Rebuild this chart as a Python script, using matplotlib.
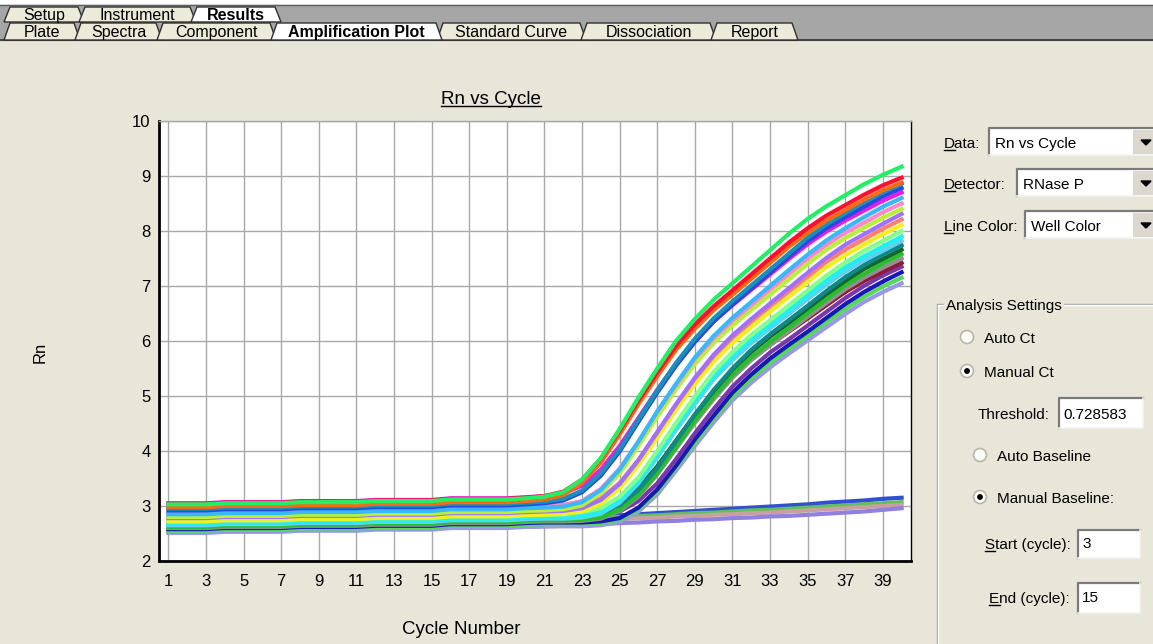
"""
Rn vs Cycle amplification plot, redrawn as a screenshot of the analysis window.
Saves out.png (1153x644).
"""

import numpy as np
import matplotlib
matplotlib.use("Agg")
import matplotlib.pyplot as plt
from matplotlib.patches import Polygon, Rectangle, Circle

plt.rcParams['font.family'] = ['Liberation Sans', 'DejaVu Sans']

# ---- data (Rn per cycle, cycles 1..40) ----
cycles = np.arange(1, 41)

# earliest wells (highest plateau)
rn_early = [
    [3.03, 3.03, 3.03, 3.05, 3.05, 3.05, 3.05, 3.07, 3.07, 3.07, 3.07, 3.09, 3.09, 3.09, 3.09, 3.12, 3.12, 3.12, 3.12, 3.14,
     3.17, 3.25, 3.48, 3.87, 4.40, 4.97, 5.50, 6.00, 6.40, 6.75, 7.05, 7.35, 7.65, 7.95, 8.22, 8.45, 8.65, 8.85, 9.02, 9.17],
    [3.04, 3.04, 3.04, 3.06, 3.06, 3.06, 3.06, 3.08, 3.08, 3.08, 3.08, 3.10, 3.10, 3.10, 3.10, 3.13, 3.13, 3.13, 3.13, 3.15,
     3.18, 3.26, 3.48, 3.86, 4.37, 4.92, 5.43, 5.91, 6.30, 6.63, 6.92, 7.21, 7.50, 7.79, 8.05, 8.28, 8.47, 8.66, 8.83, 8.97],
    [2.98, 2.98, 2.98, 3.00, 3.00, 3.00, 3.00, 3.02, 3.02, 3.02, 3.02, 3.04, 3.04, 3.04, 3.04, 3.07, 3.07, 3.07, 3.07, 3.09,
     3.12, 3.20, 3.42, 3.79, 4.30, 4.85, 5.36, 5.84, 6.22, 6.56, 6.84, 7.13, 7.42, 7.71, 7.97, 8.19, 8.38, 8.57, 8.74, 8.88],
    [2.95, 2.95, 2.95, 2.97, 2.97, 2.97, 2.97, 2.99, 2.99, 2.99, 2.99, 3.01, 3.01, 3.01, 3.01, 3.04, 3.04, 3.04, 3.04, 3.06,
     3.08, 3.13, 3.28, 3.59, 4.03, 4.57, 5.10, 5.60, 6.04, 6.41, 6.72, 7.01, 7.30, 7.59, 7.88, 8.12, 8.32, 8.52, 8.70, 8.86],
    [2.92, 2.92, 2.92, 2.94, 2.94, 2.94, 2.94, 2.96, 2.96, 2.96, 2.96, 2.98, 2.98, 2.98, 2.98, 3.01, 3.01, 3.01, 3.01, 3.03,
     3.05, 3.10, 3.25, 3.55, 3.99, 4.53, 5.06, 5.55, 5.98, 6.35, 6.66, 6.95, 7.24, 7.53, 7.81, 8.05, 8.25, 8.44, 8.63, 8.78],
    [3.05, 3.05, 3.05, 3.07, 3.07, 3.07, 3.07, 3.09, 3.09, 3.09, 3.09, 3.11, 3.11, 3.11, 3.11, 3.14, 3.14, 3.14, 3.14, 3.16,
     3.18, 3.23, 3.37, 3.66, 4.09, 4.60, 5.11, 5.59, 6.00, 6.36, 6.65, 6.93, 7.21, 7.49, 7.76, 7.99, 8.19, 8.37, 8.55, 8.70],
]
colors_early = ['#22ee66', '#ff1030', '#ff6a10', '#1890b8', '#2848e0', '#e81ce8']

rn_mid = [
    [2.85, 2.85, 2.85, 2.87, 2.87, 2.87, 2.87, 2.89, 2.89, 2.89, 2.89, 2.91, 2.91, 2.91, 2.91, 2.94, 2.94, 2.94, 2.94, 2.96,
     2.97, 2.99, 3.07, 3.29, 3.66, 4.17, 4.72, 5.22, 5.70, 6.09, 6.42, 6.71, 7.00, 7.29, 7.57, 7.83, 8.05, 8.25, 8.44, 8.60],
    [2.88, 2.88, 2.88, 2.90, 2.90, 2.90, 2.90, 2.92, 2.92, 2.92, 2.92, 2.94, 2.94, 2.94, 2.94, 2.97, 2.97, 2.97, 2.97, 2.99,
     3.00, 3.02, 3.09, 3.31, 3.68, 4.17, 4.71, 5.20, 5.67, 6.05, 6.37, 6.65, 6.94, 7.22, 7.50, 7.75, 7.97, 8.15, 8.34, 8.50],
    [2.80, 2.80, 2.80, 2.82, 2.82, 2.82, 2.82, 2.84, 2.84, 2.84, 2.84, 2.86, 2.86, 2.86, 2.86, 2.89, 2.89, 2.89, 2.89, 2.91,
     2.92, 2.94, 3.01, 3.23, 3.59, 4.09, 4.62, 5.12, 5.58, 5.96, 6.28, 6.56, 6.84, 7.12, 7.40, 7.66, 7.87, 8.06, 8.24, 8.40],
    [2.78, 2.78, 2.78, 2.80, 2.80, 2.80, 2.80, 2.82, 2.82, 2.82, 2.82, 2.84, 2.84, 2.84, 2.84, 2.87, 2.87, 2.87, 2.87, 2.89,
     2.90, 2.91, 2.96, 3.11, 3.40, 3.83, 4.34, 4.85, 5.33, 5.75, 6.10, 6.40, 6.68, 6.96, 7.24, 7.51, 7.75, 7.94, 8.13, 8.31],
    [2.82, 2.82, 2.82, 2.84, 2.84, 2.84, 2.84, 2.86, 2.86, 2.86, 2.86, 2.88, 2.88, 2.88, 2.88, 2.91, 2.91, 2.91, 2.91, 2.93,
     2.94, 2.95, 3.00, 3.14, 3.42, 3.84, 4.34, 4.84, 5.31, 5.72, 6.06, 6.35, 6.63, 6.90, 7.17, 7.44, 7.66, 7.85, 8.04, 8.21],
    [2.72, 2.72, 2.72, 2.74, 2.74, 2.74, 2.74, 2.76, 2.76, 2.76, 2.76, 2.78, 2.78, 2.78, 2.78, 2.81, 2.81, 2.81, 2.81, 2.83,
     2.84, 2.85, 2.90, 3.04, 3.32, 3.74, 4.24, 4.74, 5.21, 5.62, 5.96, 6.25, 6.53, 6.80, 7.07, 7.34, 7.56, 7.75, 7.94, 8.11],
]
colors_mid = ['#38b8ff', '#ff88c8', '#b8f038', '#a070ff', '#ff8070', '#f0f020']

rn_late = [
    [2.75, 2.75, 2.75, 2.77, 2.77, 2.77, 2.77, 2.79, 2.79, 2.79, 2.79, 2.81, 2.81, 2.81, 2.81, 2.84, 2.84, 2.84, 2.84, 2.86,
     2.87, 2.87, 2.89, 2.96, 3.17, 3.52, 4.00, 4.51, 4.99, 5.44, 5.80, 6.11, 6.38, 6.65, 6.92, 7.19, 7.43, 7.64, 7.82, 8.00],
    [2.68, 2.68, 2.68, 2.70, 2.70, 2.70, 2.70, 2.72, 2.72, 2.72, 2.72, 2.74, 2.74, 2.74, 2.74, 2.77, 2.77, 2.77, 2.77, 2.79,
     2.80, 2.80, 2.82, 2.89, 3.10, 3.44, 3.92, 4.43, 4.90, 5.35, 5.71, 6.02, 6.29, 6.56, 6.83, 7.10, 7.34, 7.54, 7.72, 7.90],
    [2.65, 2.65, 2.65, 2.67, 2.67, 2.67, 2.67, 2.69, 2.69, 2.69, 2.69, 2.71, 2.71, 2.71, 2.71, 2.74, 2.74, 2.74, 2.74, 2.76,
     2.77, 2.77, 2.79, 2.86, 3.06, 3.41, 3.88, 4.38, 4.85, 5.30, 5.65, 5.96, 6.23, 6.49, 6.76, 7.02, 7.26, 7.47, 7.64, 7.82],
    [2.70, 2.70, 2.70, 2.72, 2.72, 2.72, 2.72, 2.74, 2.74, 2.74, 2.74, 2.76, 2.76, 2.76, 2.76, 2.79, 2.79, 2.79, 2.79, 2.81,
     2.82, 2.82, 2.83, 2.87, 3.01, 3.29, 3.69, 4.17, 4.66, 5.11, 5.50, 5.84, 6.12, 6.38, 6.64, 6.91, 7.16, 7.38, 7.57, 7.74],
    [2.75, 2.75, 2.75, 2.77, 2.77, 2.77, 2.77, 2.79, 2.79, 2.79, 2.79, 2.81, 2.81, 2.81, 2.81, 2.84, 2.84, 2.84, 2.84, 2.86,
     2.87, 2.87, 2.88, 2.92, 3.06, 3.32, 3.72, 4.19, 4.66, 5.09, 5.48, 5.80, 6.08, 6.33, 6.59, 6.85, 7.09, 7.31, 7.49, 7.66],
    [2.62, 2.62, 2.62, 2.64, 2.64, 2.64, 2.64, 2.66, 2.66, 2.66, 2.66, 2.68, 2.68, 2.68, 2.68, 2.71, 2.71, 2.71, 2.71, 2.73,
     2.74, 2.74, 2.75, 2.79, 2.93, 3.20, 3.60, 4.07, 4.55, 4.99, 5.38, 5.70, 5.98, 6.24, 6.50, 6.76, 7.01, 7.22, 7.41, 7.58],
]
colors_late = ['#88ff88', '#20f0f0', '#60d0f0', '#108888', '#106830', '#28c028']

rn_latest = [
    [2.60, 2.60, 2.60, 2.62, 2.62, 2.62, 2.62, 2.64, 2.64, 2.64, 2.64, 2.66, 2.66, 2.66, 2.66, 2.69, 2.69, 2.69, 2.69, 2.71,
     2.72, 2.72, 2.73, 2.77, 2.91, 3.17, 3.57, 4.04, 4.51, 4.94, 5.33, 5.65, 5.92, 6.18, 6.44, 6.69, 6.94, 7.15, 7.33, 7.50],
    [2.78, 2.78, 2.78, 2.80, 2.80, 2.80, 2.80, 2.82, 2.82, 2.82, 2.82, 2.84, 2.84, 2.84, 2.84, 2.87, 2.87, 2.87, 2.87, 2.89,
     2.90, 2.90, 2.91, 2.95, 3.08, 3.33, 3.70, 4.14, 4.59, 5.00, 5.36, 5.67, 5.93, 6.17, 6.41, 6.65, 6.89, 7.09, 7.26, 7.42],
    [2.70, 2.70, 2.70, 2.72, 2.72, 2.72, 2.72, 2.74, 2.74, 2.74, 2.74, 2.76, 2.76, 2.76, 2.76, 2.79, 2.79, 2.79, 2.79, 2.81,
     2.82, 2.82, 2.82, 2.84, 2.90, 3.09, 3.41, 3.85, 4.32, 4.76, 5.17, 5.50, 5.79, 6.03, 6.28, 6.53, 6.78, 7.00, 7.19, 7.35],
    [2.58, 2.58, 2.58, 2.60, 2.60, 2.60, 2.60, 2.62, 2.62, 2.62, 2.62, 2.64, 2.64, 2.64, 2.64, 2.67, 2.67, 2.67, 2.67, 2.69,
     2.70, 2.70, 2.70, 2.72, 2.78, 2.97, 3.30, 3.73, 4.21, 4.64, 5.06, 5.39, 5.68, 5.93, 6.17, 6.42, 6.67, 6.89, 7.08, 7.25],
    [2.55, 2.55, 2.55, 2.57, 2.57, 2.57, 2.57, 2.59, 2.59, 2.59, 2.59, 2.61, 2.61, 2.61, 2.61, 2.64, 2.64, 2.64, 2.64, 2.66,
     2.67, 2.67, 2.67, 2.69, 2.75, 2.94, 3.26, 3.69, 4.15, 4.59, 4.99, 5.32, 5.60, 5.85, 6.09, 6.34, 6.58, 6.80, 6.99, 7.15],
    [2.51, 2.51, 2.51, 2.53, 2.53, 2.53, 2.53, 2.55, 2.55, 2.55, 2.55, 2.57, 2.57, 2.57, 2.57, 2.60, 2.60, 2.60, 2.60, 2.62,
     2.63, 2.63, 2.63, 2.65, 2.71, 2.90, 3.21, 3.64, 4.09, 4.52, 4.92, 5.24, 5.52, 5.77, 6.01, 6.25, 6.49, 6.71, 6.89, 7.05],
]
colors_latest = ['#909090', '#901838', '#7838a8', '#1818b8', '#58d858', '#9898e8']

# wells that never amplify
rn_flat = [
    [2.60, 2.60, 2.61, 2.62, 2.62, 2.63, 2.64, 2.64, 2.65, 2.66, 2.66, 2.67, 2.68, 2.68, 2.69, 2.70, 2.71, 2.72, 2.73, 2.74,
     2.75, 2.77, 2.79, 2.81, 2.83, 2.85, 2.87, 2.89, 2.91, 2.93, 2.95, 2.97, 2.99, 3.01, 3.03, 3.06, 3.08, 3.10, 3.13, 3.15],
    [2.58, 2.58, 2.59, 2.60, 2.60, 2.61, 2.62, 2.62, 2.63, 2.64, 2.64, 2.65, 2.66, 2.66, 2.67, 2.68, 2.69, 2.70, 2.71, 2.72,
     2.73, 2.75, 2.77, 2.78, 2.80, 2.82, 2.83, 2.85, 2.87, 2.88, 2.90, 2.92, 2.93, 2.95, 2.97, 2.99, 3.01, 3.03, 3.05, 3.07],
    [2.56, 2.56, 2.57, 2.58, 2.58, 2.59, 2.60, 2.60, 2.61, 2.62, 2.62, 2.63, 2.64, 2.64, 2.65, 2.66, 2.66, 2.67, 2.68, 2.69,
     2.70, 2.72, 2.73, 2.75, 2.76, 2.78, 2.79, 2.81, 2.82, 2.84, 2.85, 2.87, 2.88, 2.90, 2.92, 2.94, 2.96, 2.98, 3.00, 3.02],
    [2.53, 2.53, 2.54, 2.54, 2.55, 2.55, 2.56, 2.56, 2.57, 2.57, 2.58, 2.58, 2.59, 2.59, 2.60, 2.60, 2.61, 2.61, 2.62, 2.62,
     2.63, 2.64, 2.66, 2.67, 2.69, 2.70, 2.72, 2.73, 2.75, 2.76, 2.78, 2.79, 2.81, 2.82, 2.84, 2.86, 2.88, 2.90, 2.93, 2.96],
]
colors_flat = ['#3050d0', '#60c060', '#c8a0a0', '#9080e0']

x_ticks = list(range(1, 40, 2))
y_ticks = list(range(2, 11))

BG = '#e8e6d8'
W, H = 1153, 644


def main():
    fig = plt.figure(figsize=(W / 100, H / 100), dpi=100, facecolor=BG)

    # full-figure overlay in pixel coordinates for the window chrome
    ui = fig.add_axes([0, 0, 1, 1], zorder=0)
    ui.set_xlim(0, W)
    ui.set_ylim(H, 0)
    ui.axis('off')

    # tab strip
    ui.add_patch(Rectangle((0, 0), W, 5, color='white', zorder=1))
    ui.add_patch(Rectangle((0, 5), W, 35, color='#a6a6a6', zorder=1))
    ui.plot([0, W], [5, 5], color='#606060', lw=1, zorder=2)
    ui.plot([0, W], [40, 40], color='#303030', lw=1.2, zorder=2)

    def tab(label, x0, x1, ytop, ybot, selected):
        face = 'white' if selected else '#ecead8'
        ui.add_patch(Polygon([(x0, ybot), (x0 + 6, ytop), (x1 - 6, ytop), (x1, ybot)],
                             closed=True, facecolor=face, edgecolor='#303030', lw=1,
                             zorder=4 if selected else 3))
        ui.text((x0 + x1) / 2, (ytop + ybot) / 2 + 1, label, ha='center', va='center',
                fontsize=11.5, fontweight='bold' if selected else 'normal', zorder=5)

    for label, x0, x1, sel in [('Setup', 4, 84, False), ('Instrument', 79, 196, False),
                               ('Results', 191, 281, True)]:
        tab(label, x0, x1, 7, 22, sel)
    for label, x0, x1, sel in [('Plate', 4, 80, False), ('Spectra', 75, 162, False),
                               ('Component', 157, 276, False), ('Amplification Plot', 271, 442, True),
                               ('Standard Curve', 437, 586, False), ('Dissociation', 581, 716, False),
                               ('Report', 711, 798, False)]:
        tab(label, x0, x1, 23, 40, sel)

    renderer = fig.canvas.get_renderer()
    inv = ui.transData.inverted()

    def underline(t, n=None):
        """Draw a line under the first n characters of a baseline-aligned text."""
        y = t.get_position()[1]
        bb = t.get_window_extent(renderer)
        xa = inv.transform((bb.x0, 0))[0]
        if n is None:
            xb = inv.transform((bb.x1, 0))[0]
        else:
            tmp = ui.text(xa, y, t.get_text()[:n], fontsize=t.get_fontsize(), ha='left', va='baseline')
            bb2 = tmp.get_window_extent(renderer)
            xb = inv.transform((bb2.x1, 0))[0]
            tmp.remove()
        ui.plot([xa, xb], [y + 2, y + 2], color='black', lw=1, zorder=6)

    def sunken_box(x0, y0, x1, y1):
        ui.add_patch(Rectangle((x0, y0), x1 - x0, y1 - y0, facecolor='white', edgecolor='none', zorder=3))
        ui.plot([x0, x0, x1], [y1, y0, y0], color='#7a7a7a', lw=1.6, zorder=4)
        ui.plot([x0, x1, x1], [y1, y1, y0], color='#f4f4f4', lw=1.2, zorder=4)

    def dropdown(label, x_label, x_box, yc, value):
        t = ui.text(x_label, yc + 5.5, label, fontsize=11, ha='left', va='baseline', zorder=5)
        underline(t, 1)
        sunken_box(x_box, yc - 14, W + 2, yc + 13)
        ui.text(x_box + 6, yc + 5.5, value, fontsize=11, ha='left', va='baseline', zorder=5)
        ui.add_patch(Rectangle((1133, yc - 12), 22, 24, facecolor='#dcd8d0', edgecolor='none', zorder=4))
        ui.add_patch(Polygon([(1141, yc - 2), (1151, yc - 2), (1146, yc + 3)], closed=True,
                             color='black', zorder=5))

    dropdown('Data:', 944, 989, 142, 'Rn vs Cycle')
    dropdown('Detector:', 944, 1017, 183, 'RNase P')
    dropdown('Line Color:', 944, 1025, 225, 'Well Color')

    # Analysis Settings group box
    ui.plot([937, 937, W], [H + 2, 304, 304], color='#a0a0a0', lw=1, zorder=2)
    ui.plot([938, 938, W], [H + 2, 305, 305], color='white', lw=1, zorder=2)
    ui.text(946, 309.5, 'Analysis Settings', fontsize=11, ha='left', va='baseline', zorder=5,
            bbox=dict(facecolor=BG, edgecolor='none', pad=1.5))

    def radio(xc, yc, label, selected):
        ui.add_patch(Circle((xc, yc), 6.5, facecolor='#fbfbf8', edgecolor='#b8b6aa', lw=1.2, zorder=4))
        if selected:
            ui.add_patch(Circle((xc, yc), 2.2, color='black', zorder=5))
        ui.text(xc + 17, yc + 5.5, label, fontsize=11, ha='left', va='baseline', zorder=5)

    radio(967, 337, 'Auto Ct', False)
    radio(967, 371, 'Manual Ct', True)
    ui.text(1049, 418.5, 'Threshold:', fontsize=11, ha='right', va='baseline', zorder=5)
    sunken_box(1059, 398, 1143, 428)
    ui.text(1063, 418.5, '0.728583', fontsize=11, ha='left', va='baseline', zorder=5)
    radio(980, 455, 'Auto Baseline', False)
    radio(980, 497, 'Manual Baseline:', True)
    t = ui.text(1071, 548.5, 'Start (cycle):', fontsize=11, ha='right', va='baseline', zorder=5)
    underline(t, 1)
    sunken_box(1078, 530, 1140, 558)
    ui.text(1082, 548.5, '3', fontsize=11, ha='left', va='baseline', zorder=5)
    t = ui.text(1070, 602.5, 'End (cycle):', fontsize=11, ha='right', va='baseline', zorder=5)
    underline(t, 1)
    sunken_box(1078, 583, 1140, 613)
    ui.text(1082, 602.5, '15', fontsize=11, ha='left', va='baseline', zorder=5)

    # chart texts
    t = ui.text(491, 103.5, 'Rn vs Cycle', fontsize=13.5, ha='center', va='baseline', zorder=5)
    underline(t)
    ui.text(40, 352, 'Rn', fontsize=12, rotation=90, ha='center', va='center', zorder=5)
    ui.text(461, 630, 'Cycle Number', fontsize=13.5, ha='center', va='center', zorder=5)

    # ---- the plot itself ----
    ax = fig.add_axes([159 / W, (H - 561) / H, 752 / W, 440 / H], zorder=2)
    ax.set_facecolor('white')

    for rn, c in zip(rn_flat, colors_flat):
        ax.plot(cycles, rn, color=c, lw=3)
    groups = [(rn_latest, colors_latest), (rn_late, colors_late),
              (rn_mid, colors_mid), (rn_early, colors_early)]
    for series, cols in groups:
        for rn, c in zip(series[::-1], cols[::-1]):
            ax.plot(cycles, rn, color=c, lw=3)

    ax.set_xlim(0.5, 40.5)
    ax.set_ylim(2, 10)
    ax.set_xticks(x_ticks)
    ax.set_yticks(y_ticks)
    ax.grid(True, color='#a8a8a8', lw=1)
    ax.set_axisbelow(True)
    ax.tick_params(length=0, labelsize=12)
    ax.tick_params(axis='x', pad=9)
    ax.tick_params(axis='y', pad=6)
    ax.spines['left'].set_linewidth(2)
    ax.spines['bottom'].set_linewidth(2)
    ax.spines['right'].set_linewidth(1)
    ax.spines['top'].set_color('#a8a8a8')
    ax.spines['top'].set_linewidth(1)

    fig.savefig('out.png', dpi=100, facecolor=BG)
    plt.close(fig)


if __name__ == "__main__":
    main()
